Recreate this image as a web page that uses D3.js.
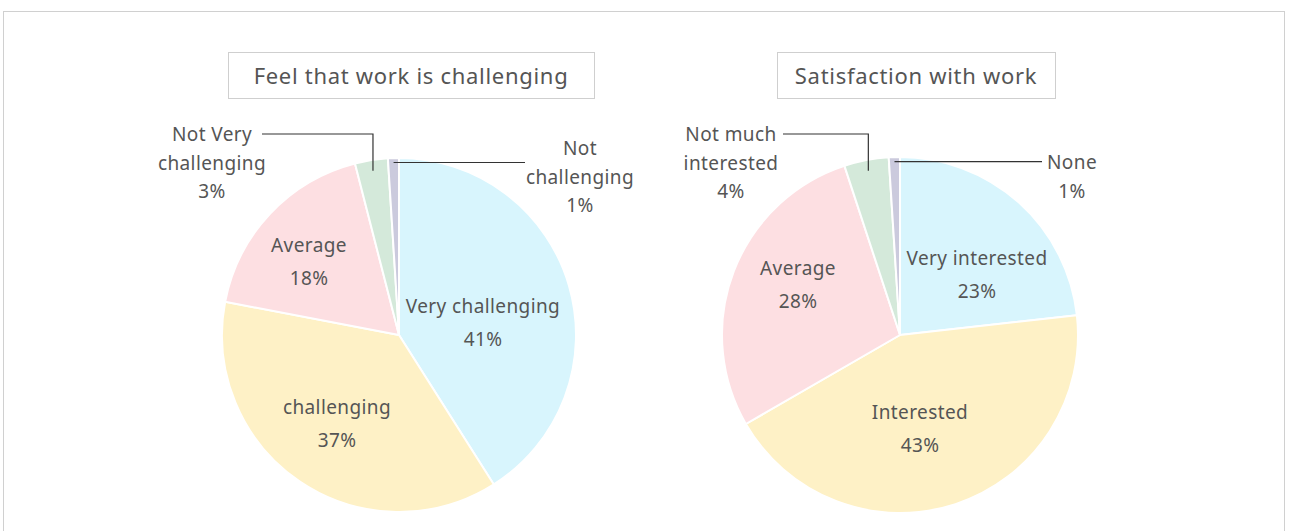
<!DOCTYPE html>
<html>
<head>
<meta charset="utf-8">
<script src="https://cdn.jsdelivr.net/npm/d3@7"></script>
<style>
  html, body { margin: 0; padding: 0; background: #fff; }
  svg { display: block; }
  text { font-family: "Noto Sans", "Open Sans", sans-serif; fill: #555; }
</style>
</head>
<body>
<svg id="chart" width="1290" height="531"></svg>
<script>
// ---- data ----
const titles = ["Feel that work is challenging", "Satisfaction with work"];
const categoriesA = ["Very challenging", "challenging", "Average", "Not Very challenging", "Not challenging"];
const valuesA = [41, 37, 18, 3, 1];
const categoriesB = ["Very interested", "Interested", "Average", "Not much interested", "None"];
const valuesB = [23, 43, 28, 4, 1];
const labelLinesA = [["Very challenging"], ["challenging"], ["Average"], ["Not Very", "challenging"], ["Not", "challenging"]];
const labelLinesB = [["Very interested"], ["Interested"], ["Average"], ["Not much", "interested"], ["None"]];
const sliceColors = ["#d8f5fd", "#fef1c6", "#fddfe2", "#d4e9da", "#cbcadd"];

// ---- layout (positions/styles) ----
const svg = d3.select("#chart");
svg.append("rect").attr("x", 3.5).attr("y", 11.5).attr("width", 1281).attr("height", 560)
  .attr("fill", "#fff").attr("stroke", "#d0d0d0").attr("stroke-width", 1);

const charts = [
  { title: titles[0], cats: categoriesA, vals: valuesA, lines: labelLinesA,
    cx: 399, cy: 335, r: 177, box: [228, 52, 366, 46],
    inner: [[84, -29], [-62, 72], [-90, -90]],
    outer: [
      { x: 212, y: 134, side: "left", lineY: 134, lineX: 262 },
      { x: 580, y: 148, side: "right", lineX: 525 }
    ] },
  { title: titles[1], cats: categoriesB, vals: valuesB, lines: labelLinesB,
    cx: 900, cy: 335, r: 178, box: [777, 52, 278, 46],
    inner: [[77, -77], [20, 77], [-102, -67]],
    outer: [
      { x: 731, y: 134, side: "left", lineY: 134, lineX: 783 },
      { x: 1072, y: 162, side: "right", lineX: 1042 }
    ] }
];

const pie = d3.pie().sort(null).value(d => d);
const lh = 28.5;

charts.forEach(c => {
  svg.append("rect").attr("x", c.box[0] + 0.5).attr("y", c.box[1] + 0.5)
    .attr("width", c.box[2]).attr("height", c.box[3])
    .attr("fill", "#fff").attr("stroke", "#cfcfcf").attr("stroke-width", 1);
  svg.append("text").attr("x", c.box[0] + c.box[2] / 2).attr("y", c.box[1] + c.box[3] / 2)
    .attr("text-anchor", "middle").attr("dominant-baseline", "central")
    .style("font-size", "22px").style("letter-spacing", "0.7px").attr("fill", "#585858").text(c.title);

  const arcs = pie(c.vals);
  const arc = d3.arc().innerRadius(0).outerRadius(c.r);
  const g = svg.append("g").attr("transform", `translate(${c.cx},${c.cy})`);
  g.selectAll("path").data(arcs).join("path")
    .attr("d", arc)
    .attr("fill", (d, i) => sliceColors[i])
    .attr("stroke", "#fff").attr("stroke-width", 2).attr("stroke-linejoin", "round");

  c.inner.forEach((off, i) => {
    const pct = c.vals[i] + "%";
    const t = svg.append("text").attr("text-anchor", "middle")
      .style("font-size", "19px").style("letter-spacing", "0.4px");
    const lines = c.lines[i].concat([pct]);
    lines.forEach((ln, k) => {
      t.append("tspan").attr("x", c.cx + off[0])
        .attr("y", c.cy + off[1] + k * 33).attr("dominant-baseline", "central").text(ln);
    });
  });

  c.outer.forEach((o, j) => {
    const i = 3 + j;
    const d = arcs[i];
    const mid = (d.startAngle + d.endAngle) / 2;
    const rr = j === 0 ? c.r * 0.94 : c.r * 0.975;
    const px = c.cx + Math.sin(mid) * rr;
    const py = c.cy - Math.cos(mid) * rr;
    const lines = c.lines[i].concat([c.vals[i] + "%"]);
    const t = svg.append("text").attr("text-anchor", "middle")
      .style("font-size", "19px").style("letter-spacing", "0.4px");
    lines.forEach((ln, k) => {
      t.append("tspan").attr("x", o.x).attr("y", o.y + k * lh)
        .attr("dominant-baseline", "central").text(ln);
    });
    let pts;
    if (o.side === "left") {
      pts = [[o.lineX, o.lineY], [px, o.lineY], [px, py]];
    } else {
      pts = [[px, py], [o.lineX, py]];
    }
    svg.append("path").attr("d", d3.line()(pts))
      .attr("fill", "none").attr("stroke", "#333").attr("stroke-width", 1.2);
  });
});
</script>
</body>
</html>
